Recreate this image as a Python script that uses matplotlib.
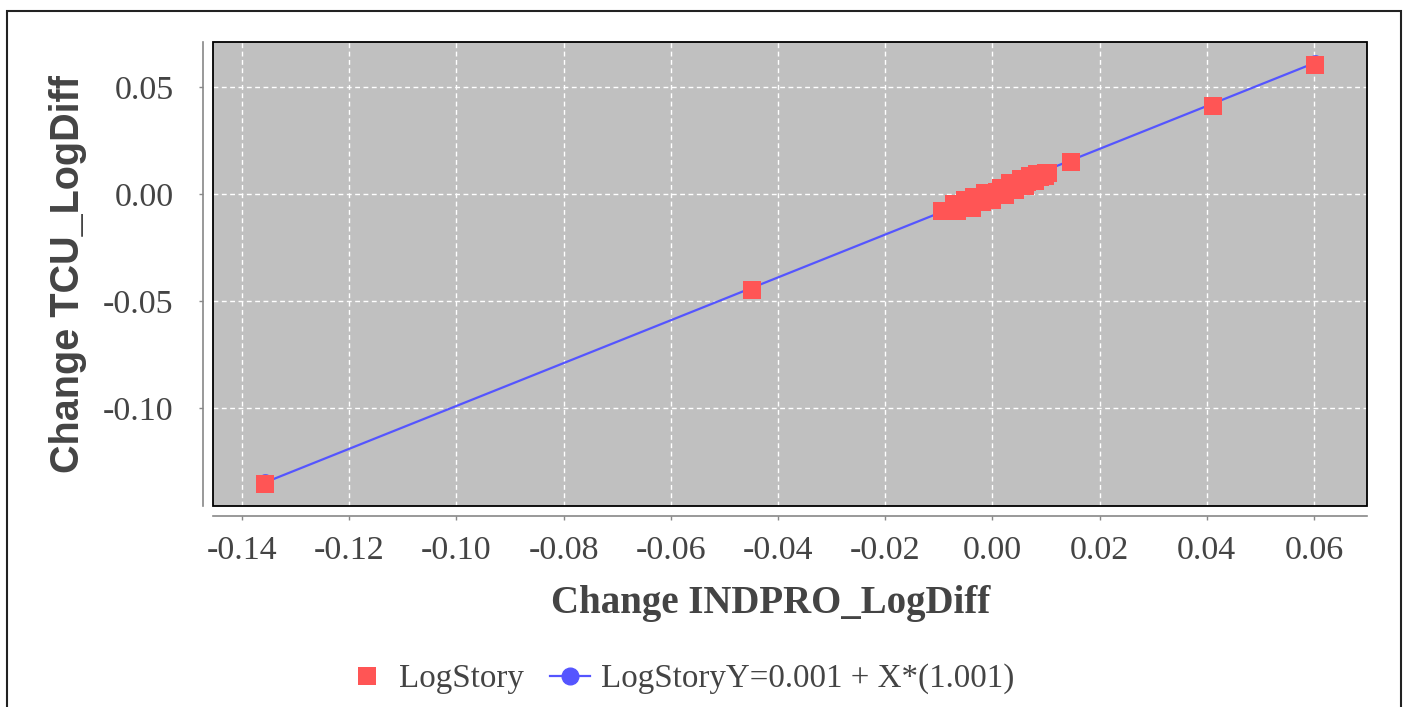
import matplotlib
matplotlib.use("Agg")
import matplotlib.pyplot as plt
from matplotlib.lines import Line2D
from matplotlib.patches import Rectangle

# ---- data ----
x_outliers = [-0.1357, -0.0449, 0.0147, 0.0412, 0.0602]
y_outliers = [-0.1355, -0.0449, 0.0150, 0.0411, 0.0603]

x_cluster = [-0.0094, -0.0088, -0.0082, -0.0076, -0.0071, -0.0066,
             -0.0072, -0.0051, -0.0034, -0.0014, 0.0016, 0.0033, 0.0053, 0.0070, 0.0083,
             -0.0038, -0.0019, -0.0001, 0.0024, 0.0042, 0.0061, 0.0080, 0.0098,
             -0.0060, -0.0045, -0.0028, -0.0010, 0.0008, 0.0028, 0.0045, 0.0065,
             0.0088, 0.0094, 0.0104, 0.0100]
y_cluster = [-0.0079, -0.0079, -0.0080, -0.0079, -0.0080, -0.0079,
             -0.0049, -0.0028, -0.0016, 0.0005, 0.0030, 0.0051, 0.0068, 0.0084, 0.0091,
             -0.0065, -0.0037, -0.0026, -0.0005, 0.0019, 0.0035, 0.0061, 0.0084,
             -0.0062, -0.0045, -0.0025, -0.0010, 0.0010, 0.0028, 0.0042, 0.0058,
             0.0078, 0.0095, 0.0099, 0.0100]

line_x = [-0.1357, 0.0602]
line_y = [-0.1348, 0.0613]

x_ticks = [-0.14, -0.12, -0.10, -0.08, -0.06, -0.04, -0.02, 0.00, 0.02, 0.04, 0.06]
y_ticks = [0.05, 0.00, -0.05, -0.10]

scatter_label = "LogStory"
line_label = "LogStoryY=0.001 + X*(1.001)"
x_title = "Change INDPRO_LogDiff"
y_title = "Change TCU_LogDiff"

# ---- style ----
W, H = 1406, 707
RED = "#FF5555"
BLUE = "#5555FF"
TXT = "#444444"
SERIF = ["Liberation Serif", "DejaVu Serif"]
SANS = ["Liberation Sans", "DejaVu Sans"]

fig = plt.figure(figsize=(W / 100, H / 100), dpi=100)
fig.patch.set_facecolor("white")

# outer chart border
fig.patches.append(Rectangle((7 / W, -0.01), (1401 - 7) / W, 1 - 11 / H + 0.01,
                             transform=fig.transFigure, fill=False,
                             edgecolor="#222222", lw=1.5))

left, right, top, bottom = 213, 1367, 42, 506
ax = fig.add_axes([left / W, 1 - bottom / H, (right - left) / W, (bottom - top) / H])
ax.set_facecolor("#C0C0C0")

ax.set_xlim(-0.1454, 0.0699)
ax.set_ylim(-0.1458, 0.0710)

ax.set_xticks(x_ticks)
ax.set_xticklabels([f"{v:.2f}" for v in x_ticks])
ax.set_yticks(y_ticks)
ax.set_yticklabels([f"{v:.2f}" for v in y_ticks])

ax.grid(True, color="white", linestyle=(0, (3.5, 2.5)), lw=1.0)
ax.set_axisbelow(True)

for s in ["top", "right"]:
    ax.spines[s].set_visible(False)
for s in ["left", "bottom"]:
    ax.spines[s].set_position(("outward", 7.2))
    ax.spines[s].set_color("#888888")
    ax.spines[s].set_linewidth(1.2)

ax.tick_params(axis="both", colors="#888888", length=3, width=1.0,
               labelcolor=TXT, labelsize=24.5)
ax.tick_params(axis="y", pad=18)
ax.tick_params(axis="x", pad=11)
for lab in ax.get_xticklabels() + ax.get_yticklabels():
    lab.set_family(SERIF)

# plot frame
ax.add_patch(Rectangle((0, 0), 1, 1, transform=ax.transAxes, fill=False,
                       edgecolor="black", lw=1.3, clip_on=False, zorder=10))

# regression line
ax.plot(line_x, line_y, color=BLUE, lw=1.6, marker="o", markersize=11, zorder=3)
# scatter
ax.plot(x_cluster + x_outliers, y_cluster + y_outliers, linestyle="none",
        marker="s", markersize=13.5, color=RED, markeredgewidth=0, zorder=4)

ax.set_xlabel(x_title, family=SERIF, fontweight="bold", fontsize=28, color=TXT)
ax.xaxis.set_label_coords((771 - left) / (right - left), -(603 - bottom) / (bottom - top))
ax.xaxis.label.set_va("center")
ax.set_ylabel(y_title, family=SANS, fontweight="bold", fontsize=28.5, color=TXT,
              labelpad=12)

handles = [
    Line2D([], [], linestyle="none", marker="s", markersize=12.5, color=RED,
           markeredgewidth=0),
    Line2D([], [], color=BLUE, lw=1.6, marker="o", markersize=12),
]
leg = fig.legend(handles, [scatter_label, line_label], loc="center",
                 bbox_to_anchor=(681 / W, 1 - 679 / H), ncol=2, frameon=False,
                 prop={"family": SERIF, "size": 23.8}, handlelength=1.2,
                 handletextpad=0.35, columnspacing=0.8, borderpad=0)
for t in leg.get_texts():
    t.set_color(TXT)

fig.savefig("out.png", dpi=100, facecolor="white")
